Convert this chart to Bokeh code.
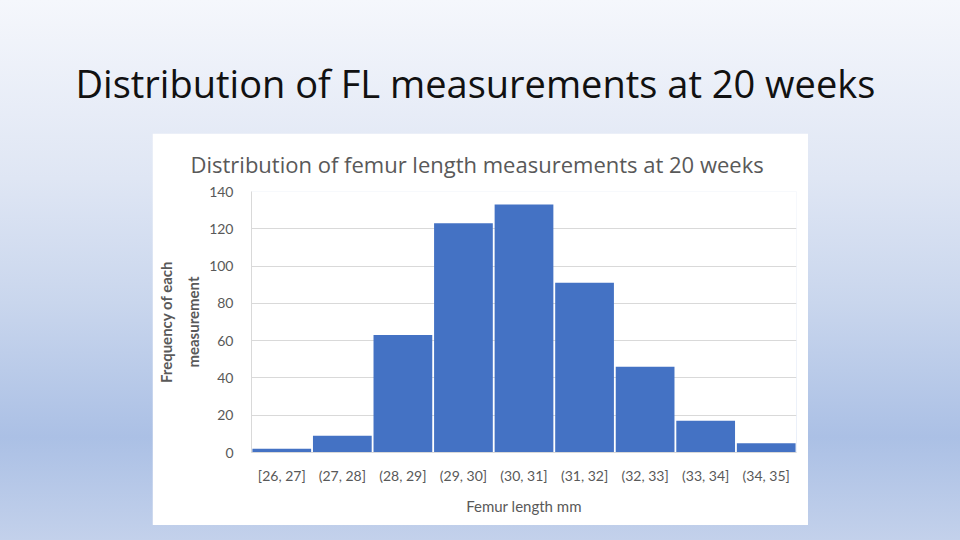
from bokeh.plotting import figure
from bokeh.models import Range1d, FactorRange, Title, FixedTicker, ColumnDataSource
from bokeh.layouts import column
from bokeh.embed import file_html
from bokeh.resources import INLINE

# ---- data ----
bins = ["[26, 27]", "(27, 28]", "(28, 29]", "(29, 30]", "(30, 31]",
        "(31, 32]", "(32, 33]", "(33, 34]", "(34, 35]"]
freq = [2, 9, 63, 123, 133, 91, 46, 17, 5]
y_ticks = [0, 20, 40, 60, 80, 100, 120, 140]

slide_title = "Distribution of FL measurements at 20 weeks"
chart_title = "Distribution of femur length measurements at 20 weeks"
x_label = "Femur length mm"
y_label = "Frequency of each\nmeasurement"

FONT = "Lato"
GRAY = "#595959"

# ---- slide title strip (transparent figure; frame is aligned with the chart frame) ----
head = figure(width=960, height=133, toolbar_location=None, output_backend="svg",
              x_range=Range1d(0, 1), y_range=Range1d(0, 1),
              x_axis_location=None, y_axis_location=None,
              min_border_top=113, min_border_bottom=0, min_border_left=0,
              min_border_right=0, background_fill_alpha=0,
              border_fill_alpha=0, outline_line_color=None, title=None)
head.grid.visible = False
head.add_layout(Title(text=slide_title, align="left", offset=-24, standoff=10,
                      text_font="Open Sans", text_font_size="38px",
                      text_color="#111111", text_font_style="normal"), "above")

# ---- chart ----
src = ColumnDataSource(dict(bins=bins, freq=freq))
p = figure(width=656, height=392, toolbar_location=None, output_backend="svg",
           x_range=FactorRange(*bins, range_padding=0), y_range=Range1d(0, 140),
           min_border_left=99, min_border_right=12, min_border_top=58,
           min_border_bottom=73, background_fill_color="white",
           border_fill_color="white", outline_line_color=None,
           margin=(0, 0, 0, 152), title=None)
p.add_layout(Title(text=chart_title, align="left", offset=-61, standoff=26,
                   text_font="Open Sans", text_font_size="22px", text_color=GRAY,
                   text_font_style="normal"), "above")

p.vbar(x="bins", top="freq", width=0.97, source=src, fill_color="#4472c4",
       line_color=None)

p.xgrid.visible = False
p.ygrid.grid_line_color = "#d9d9d9"
p.ygrid.grid_line_width = 1

p.yaxis.ticker = FixedTicker(ticks=y_ticks)
for ax in (p.xaxis[0], p.yaxis[0]):
    ax.major_tick_line_color = None
    ax.minor_tick_line_color = None
    ax.axis_line_color = "#d9d9d9"
    ax.major_label_text_font = FONT
    ax.major_label_text_color = GRAY
    ax.major_label_text_font_size = "14px"
    ax.axis_label_text_font = FONT
    ax.axis_label_text_color = GRAY

p.yaxis.major_label_standoff = 12
p.yaxis.axis_label = y_label
p.yaxis.axis_label_text_font_size = "15px"
p.yaxis.axis_label_text_font_style = "bold"
p.yaxis.axis_label_text_line_height = 1.5
p.yaxis.axis_label_standoff = 4

p.xaxis.major_label_standoff = 8
p.xaxis.axis_label = x_label
p.xaxis.axis_label_text_font_size = "15px"
p.xaxis.axis_label_text_font_style = "normal"
p.xaxis.axis_label_standoff = 10

layout = column(head, p, width=960, height=540, spacing=0,
                styles={"background": "linear-gradient(180deg, #f5f7fc 0%, #dfe6f4 33%, "
                                      "#c9d6ed 56%, #abc0e5 81%, #c3d1eb 100%)"})

open("out.html", "w").write(file_html(layout, INLINE))
